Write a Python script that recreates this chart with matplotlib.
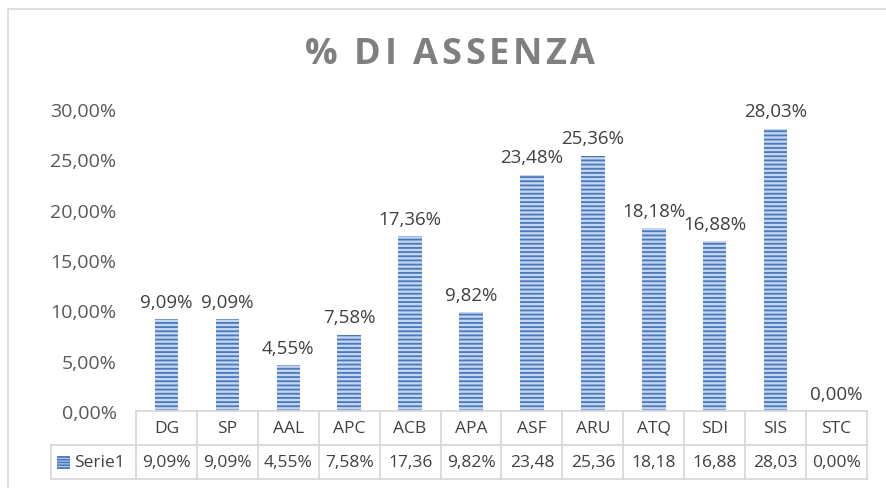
import matplotlib
matplotlib.use("Agg")
import matplotlib.pyplot as plt
import matplotlib.transforms as mtransforms
from matplotlib.patches import Rectangle
from matplotlib.lines import Line2D
from matplotlib.font_manager import FontProperties, findfont, get_font

categories = ["DG", "SP", "AAL", "APC", "ACB", "APA", "ASF", "ARU", "ATQ", "SDI", "SIS", "STC"]
values = [9.09, 9.09, 4.55, 7.58, 17.36, 9.82, 23.48, 25.36, 18.18, 16.88, 28.03, 0.00]
series_name = "Serie1"
yticks = [0, 5, 10, 15, 20, 25, 30]
title = "% DI ASSENZA"

def fmt(v, pct=True):
    s = f"{v:.2f}".replace(".", ",")
    return s + "%" if pct else s

plt.rcParams['font.family'] = ['Open Sans', 'DejaVu Sans']
plt.rcParams['hatch.linewidth'] = 1.3
W, H = 887, 489
DPI = 100
fig = plt.figure(figsize=(W / DPI, H / DPI), dpi=DPI)
AX_L, AX_R, AX_B, AX_T = 136, 867, 412, 110
ax = fig.add_axes([AX_L / W, 1 - AX_B / H, (AX_R - AX_L) / W, (AX_B - AX_T) / H])

bar_face = "#C4D6F0"
bar_edge = "#4A78BD"
n = len(categories)
xs = list(range(n))
ax.bar(xs, values, width=0.385, color=bar_face, edgecolor=bar_edge, hatch="----", linewidth=0)
ax.set_xlim(-0.5, n - 0.5)
ax.set_ylim(0, 30)
ax.set_yticks(yticks)
ax.set_yticklabels([fmt(t) for t in yticks], fontsize=14, color="#595959")
ax.tick_params(axis="y", length=0, pad=14)
ax.set_xticks([])
for s in ax.spines.values():
    s.set_visible(False)

text_col = "#404040"
for x, v in zip(xs, values):
    ax.annotate(fmt(v), (x, v), xytext=(0, 6), textcoords="offset points",
                ha="center", va="bottom", fontsize=13.5, color=text_col)

# title with letter spacing
tsize = 26
tprop = FontProperties(family=['Open Sans', 'DejaVu Sans'], weight='bold', size=tsize)
ft = get_font(findfont(tprop))
ft.set_size(tsize, DPI)
adv = []
for ch in title:
    g = ft.load_char(ord(ch))
    adv.append(g.linearHoriAdvance / 65536.0)
spacing = 3.6
total = sum(adv) + spacing * (len(title) - 1)
cx, cy = 450, 55
xpos = cx - total / 2
for ch, a in zip(title, adv):
    if ch != " ":
        fig.text(xpos / W, 1 - cy / H, ch, ha="left", va="center", fontproperties=tprop,
                 color="#7F7F7F")
    xpos += a + spacing

# table
grid = "#D9D9D9"
tr = mtransforms.blended_transform_factory(ax.transData, fig.transFigure)
y0, y1, y2 = 1 - 412 / H, 1 - 446 / H, 1 - 480 / H
col_px = (AX_R - AX_L) / n
left_data = -0.5 - (AX_L - 50.5) / col_px
lines = [
    ((-0.5, n - 0.5), (y0, y0)),
    ((left_data, n - 0.5), (y1, y1)),
    ((left_data, n - 0.5), (y2, y2)),
    ((left_data, left_data), (y1, y2)),
]
for i in range(n + 1):
    lines.append(((i - 0.5, i - 0.5), (y0, y2)))
for xd, yd in lines:
    fig.add_artist(Line2D(xd, yd, transform=tr, color=grid, lw=1.3))

for x, c, v in zip(xs, categories, values):
    fig.text(x, (y0 + y1) / 2, c, transform=tr, ha="center", va="center",
             fontsize=12.5, color=text_col)
    fig.text(x, (y1 + y2) / 2, fmt(v, pct=(len(fmt(v)) <= 5)), transform=tr,
             ha="center", va="center", fontsize=12.5, color=text_col)

# legend key + series name
kx = left_data + (57 - 50.5) / col_px
fig.add_artist(Rectangle((kx, 1 - 470 / H), 13 / col_px, 13 / H,
                         transform=tr, facecolor=bar_face, edgecolor=bar_edge,
                         hatch="------", linewidth=0))
fig.text(left_data + (74 - 50.5) / col_px, (y1 + y2) / 2, series_name, transform=tr,
         ha="left", va="center", fontsize=12.5, color=text_col)

# outer chart border (extends past right/bottom edges)
fig.add_artist(Rectangle((8.5 / W, -0.05), 1.1, 1 - 9.5 / H + 0.05,
                         transform=fig.transFigure, fill=False, edgecolor=grid, lw=1.2))
fig.savefig("out.png", dpi=DPI)
